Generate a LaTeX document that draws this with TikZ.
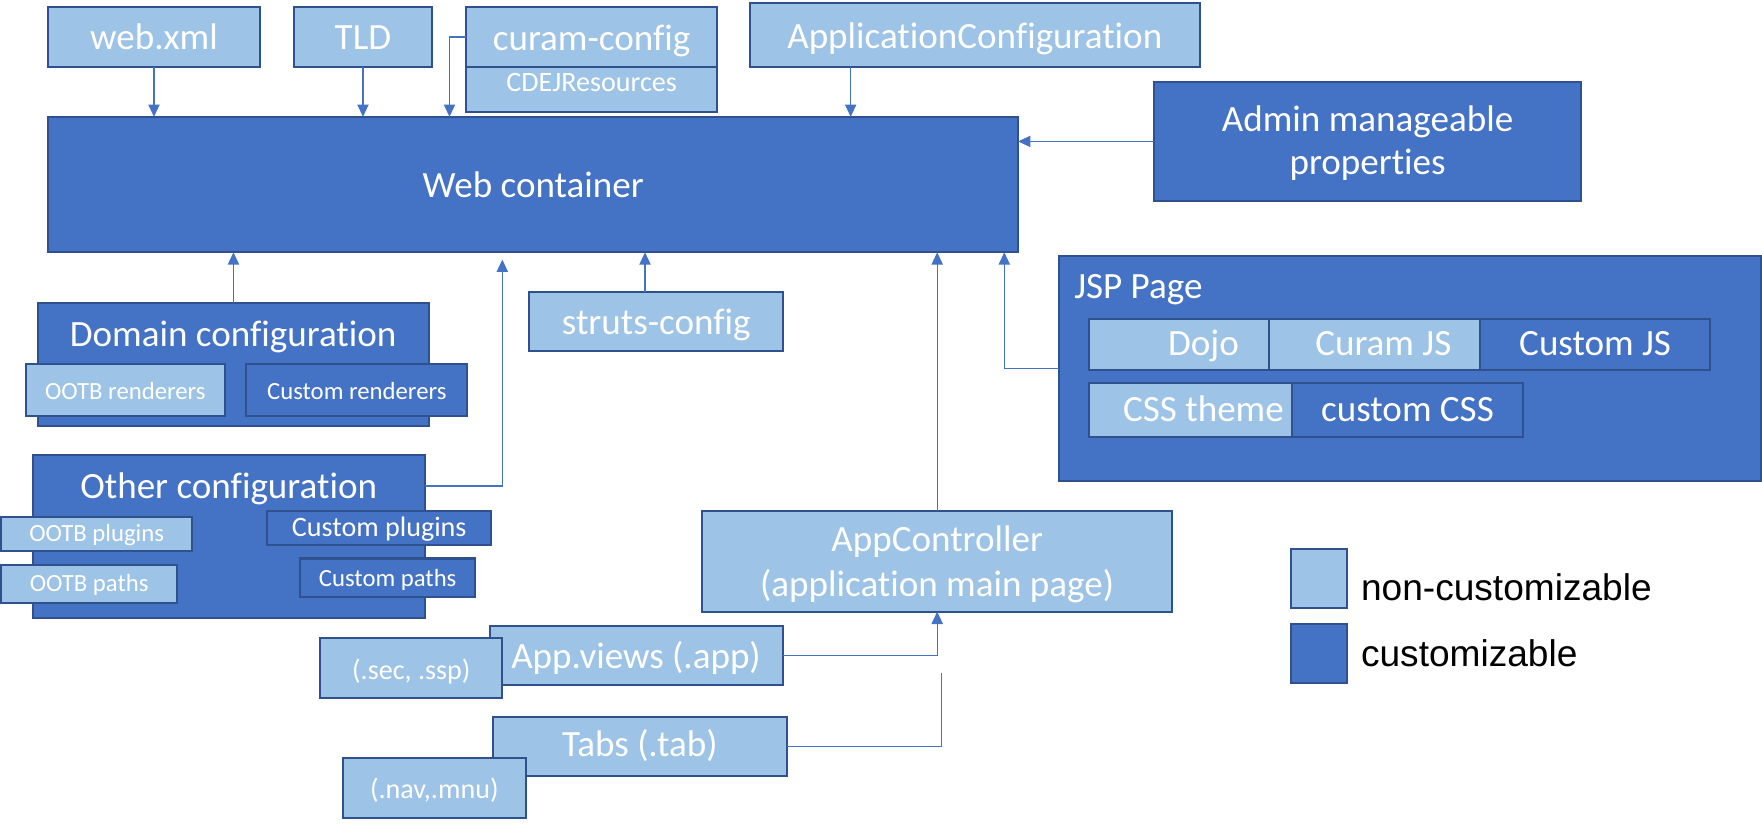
\documentclass[tikz,border=0pt]{standalone}
\usepackage{fontspec}
\setmainfont{Carlito}[Ligatures={NoCommon}]
\newfontfamily\arialf{Liberation Sans}
\usetikzlibrary{arrows.meta}
\definecolor{lightc}{HTML}{9DC3E6}
\definecolor{darkc}{HTML}{4472C4}
\definecolor{bordc}{HTML}{2F528F}
\definecolor{connc}{HTML}{4472C4}
\newcommand\fbig{\fontsize{33}{39}\selectfont}
\newcommand\fmid{\fontsize{25}{30}\selectfont}
\newcommand\fsml{\fontsize{22}{26}\selectfont}
\newcommand\rbox[6]{\node[#1, minimum width={(#5-#3)*1pt}, minimum height={(#6-#4)*1pt}] (#2) at ({(#3+#5)/2},{(#4+#6)/2}) {};}
\tikzset{
  basebox/.style={rectangle, draw=bordc, line width=1.8pt, inner sep=0pt, outer sep=0pt},
  lbox/.style={basebox, fill=lightc},
  dbox/.style={basebox, fill=darkc},
  txt/.style={text=white, anchor=base, inner sep=0pt, outer sep=0pt, font=\fbig},
  txtm/.style={txt, font=\fmid},
  txts/.style={txt, font=\fsml},
  legtxt/.style={text=black, anchor=base west, inner sep=0pt, font=\arialf\fbig},
  conn/.style={draw=connc, line width=1.2pt},
  arr/.style={conn, -{Triangle[length=11pt,width=10pt]}},
}
\begin{document}
\begin{tikzpicture}[x=1pt,y=-1pt]
\useasboundingbox (0,0) rectangle (1568,733);
% top row
\rbox{lbox}{webxml}{43}{6.5}{231}{59.5}
\rbox{lbox}{tld}{262}{6.5}{384}{59.5}
\rbox{lbox}{curam}{415}{6.5}{638}{59.3}
\rbox{lbox}{cdej}{415}{59.3}{638}{100}
\rbox{lbox}{appcfg}{667}{3}{1068}{59.6}
\rbox{dbox}{wc}{43}{104}{906}{224.5}
\rbox{dbox}{admin}{1027}{72.7}{1407}{179}
% domain configuration
\rbox{dbox}{domain}{33.5}{270}{382}{379}
\rbox{lbox}{ootbr}{23}{324}{200}{370}
\rbox{dbox}{custr}{219}{324}{416}{370}
% other configuration
\rbox{dbox}{other}{29}{405}{378}{550}
\rbox{lbox}{ootbpl}{1}{460}{171}{490}
\rbox{lbox}{ootbpa}{1}{503}{157.5}{536.7}
\rbox{dbox}{custpl}{238}{455}{437}{485}
\rbox{dbox}{custpa}{267}{497}{423}{531}
% struts
\rbox{lbox}{struts}{471}{260}{697}{312.4}
% JSP page
\rbox{dbox}{jsp}{942.7}{227.5}{1567}{427.8}
\rbox{lbox}{dojo}{969}{284}{1173}{329.3}
\rbox{lbox}{curamjs}{1129}{284}{1333}{329.3}
\rbox{dbox}{custjs}{1317}{284}{1522}{329.3}
\rbox{lbox}{csstheme}{969}{341}{1175}{388.6}
\rbox{dbox}{customcss}{1150}{341}{1355}{389}
% app controller and views
\rbox{lbox}{appc}{625}{454.5}{1043}{544.3}
\rbox{lbox}{appviews}{435.8}{556.8}{696.8}{609.6}
\rbox{lbox}{secssp}{284.8}{568}{446.8}{621}
\rbox{lbox}{tabs}{438.8}{637.8}{700}{690.6}
\rbox{lbox}{navmnu}{305}{674.8}{468}{728}
% legend
\rbox{lbox}{leg1}{1149}{488.6}{1198.6}{541}
\rbox{dbox}{leg2}{1149}{555.4}{1198.6}{607.8}

% texts
\node[txt] (t-webxml) at (137,43.9) {web.xml};
\node[txt] (t-tld) at (323,43.9) {TLD};
\node[txt] (t-curam) at (526.5,44.5) {curam-config};
\node[txtm] (t-cdej) at (526.5,81.6) {CDEJResources};
\node[txt] (t-appcfg) at (867.5,43) {ApplicationConfiguration};
\node[txt] (t-admin1) at (1217,117.2) {Admin manageable};
\node[txt] (t-admin2) at (1217,155.7) {properties};
\node[txt] (t-wc) at (474.5,176) {Web container};
\node[txt] (t-domain) at (207.5,308.5) {Domain configuration};
\node[txts] (t-ootbr) at (111.5,355.4) {OOTB renderers};
\node[txts] (t-custr) at (317.5,355.4) {Custom renderers};
\node[txt] (t-other) at (203.5,443.5) {Other configuration};
\node[txts] (t-ootbpl) at (86,482) {OOTB plugins};
\node[txtm] (t-custpl) at (337.5,477.6) {Custom plugins};
\node[txts] (t-ootbpa) at (79.3,526.5) {OOTB paths};
\node[txts] (t-custpa) at (345,522) {Custom paths};
\node[txt] (t-struts) at (584,298) {struts-config};
\node[txt, anchor=base west] (t-jsp) at (956,265.5) {JSP Page};
\node[txt] (t-dojo) at (1071,316) {Dojo};
\node[txt] (t-curamjs) at (1231,316) {Curam JS};
\node[txt] (t-custjs) at (1419.5,316) {Custom JS};
\node[txt] (t-csstheme) at (1071,375.3) {CSS theme};
\node[txt] (t-customcss) at (1252.5,375.3) {custom CSS};
\node[txt] (t-appc1) at (834,491) {AppController};
\node[txt] (t-appc2) at (834,530.4) {(application main page)};
\node[txt] (t-appviews) at (566,594.8) {App.views (.app)};
\node[txtm] (t-secssp) at (366,605) {(.sec, .ssp)};
\node[txt] (t-tabs) at (569.4,673.4) {Tabs (.tab)};
\node[txtm] (t-navmnu) at (386.5,710.4) {(.nav,.mnu)};
\node[legtxt] (t-leg1) at (1211,534) {non-customizable};
\node[legtxt] (t-leg2) at (1211,593.3) {customizable};

% connectors
\coordinate (ocend) at (447,231);
\coordinate (tabend) at (838,599);
\draw[arr] (webxml.south) -- (webxml.south |- wc.north);
\draw[arr] (tld.south) -- (tld.south |- wc.north);
\draw[arr] (curam.west) -- ++(-15,0) coordinate (cb) -- (cb |- wc.north);
\draw[arr] (appcfg.south west) ++(90,0) coordinate (ac1) -- (ac1 |- wc.north);
\draw[arr] (admin.west) -- (admin.west -| wc.east);
\draw[arr] (domain.north) -- (domain.north |- wc.south);
\draw[arr] (other.north east) ++(0,27.5) coordinate (oc1) -| (ocend);
\draw[arr] ([xshift=-10pt]struts.north) coordinate (st1) -- (st1 |- wc.south);
\draw[arr] (appc.north) -- (appc.north |- wc.south);
\draw[arr] (jsp.west) -- ++(-49,0) coordinate (jb) -- (jb |- wc.south);
\draw[arr] (appviews.east) -| (appc.south);
\draw[conn] (tabs.east) -| (tabend);
\end{tikzpicture}
\end{document}
